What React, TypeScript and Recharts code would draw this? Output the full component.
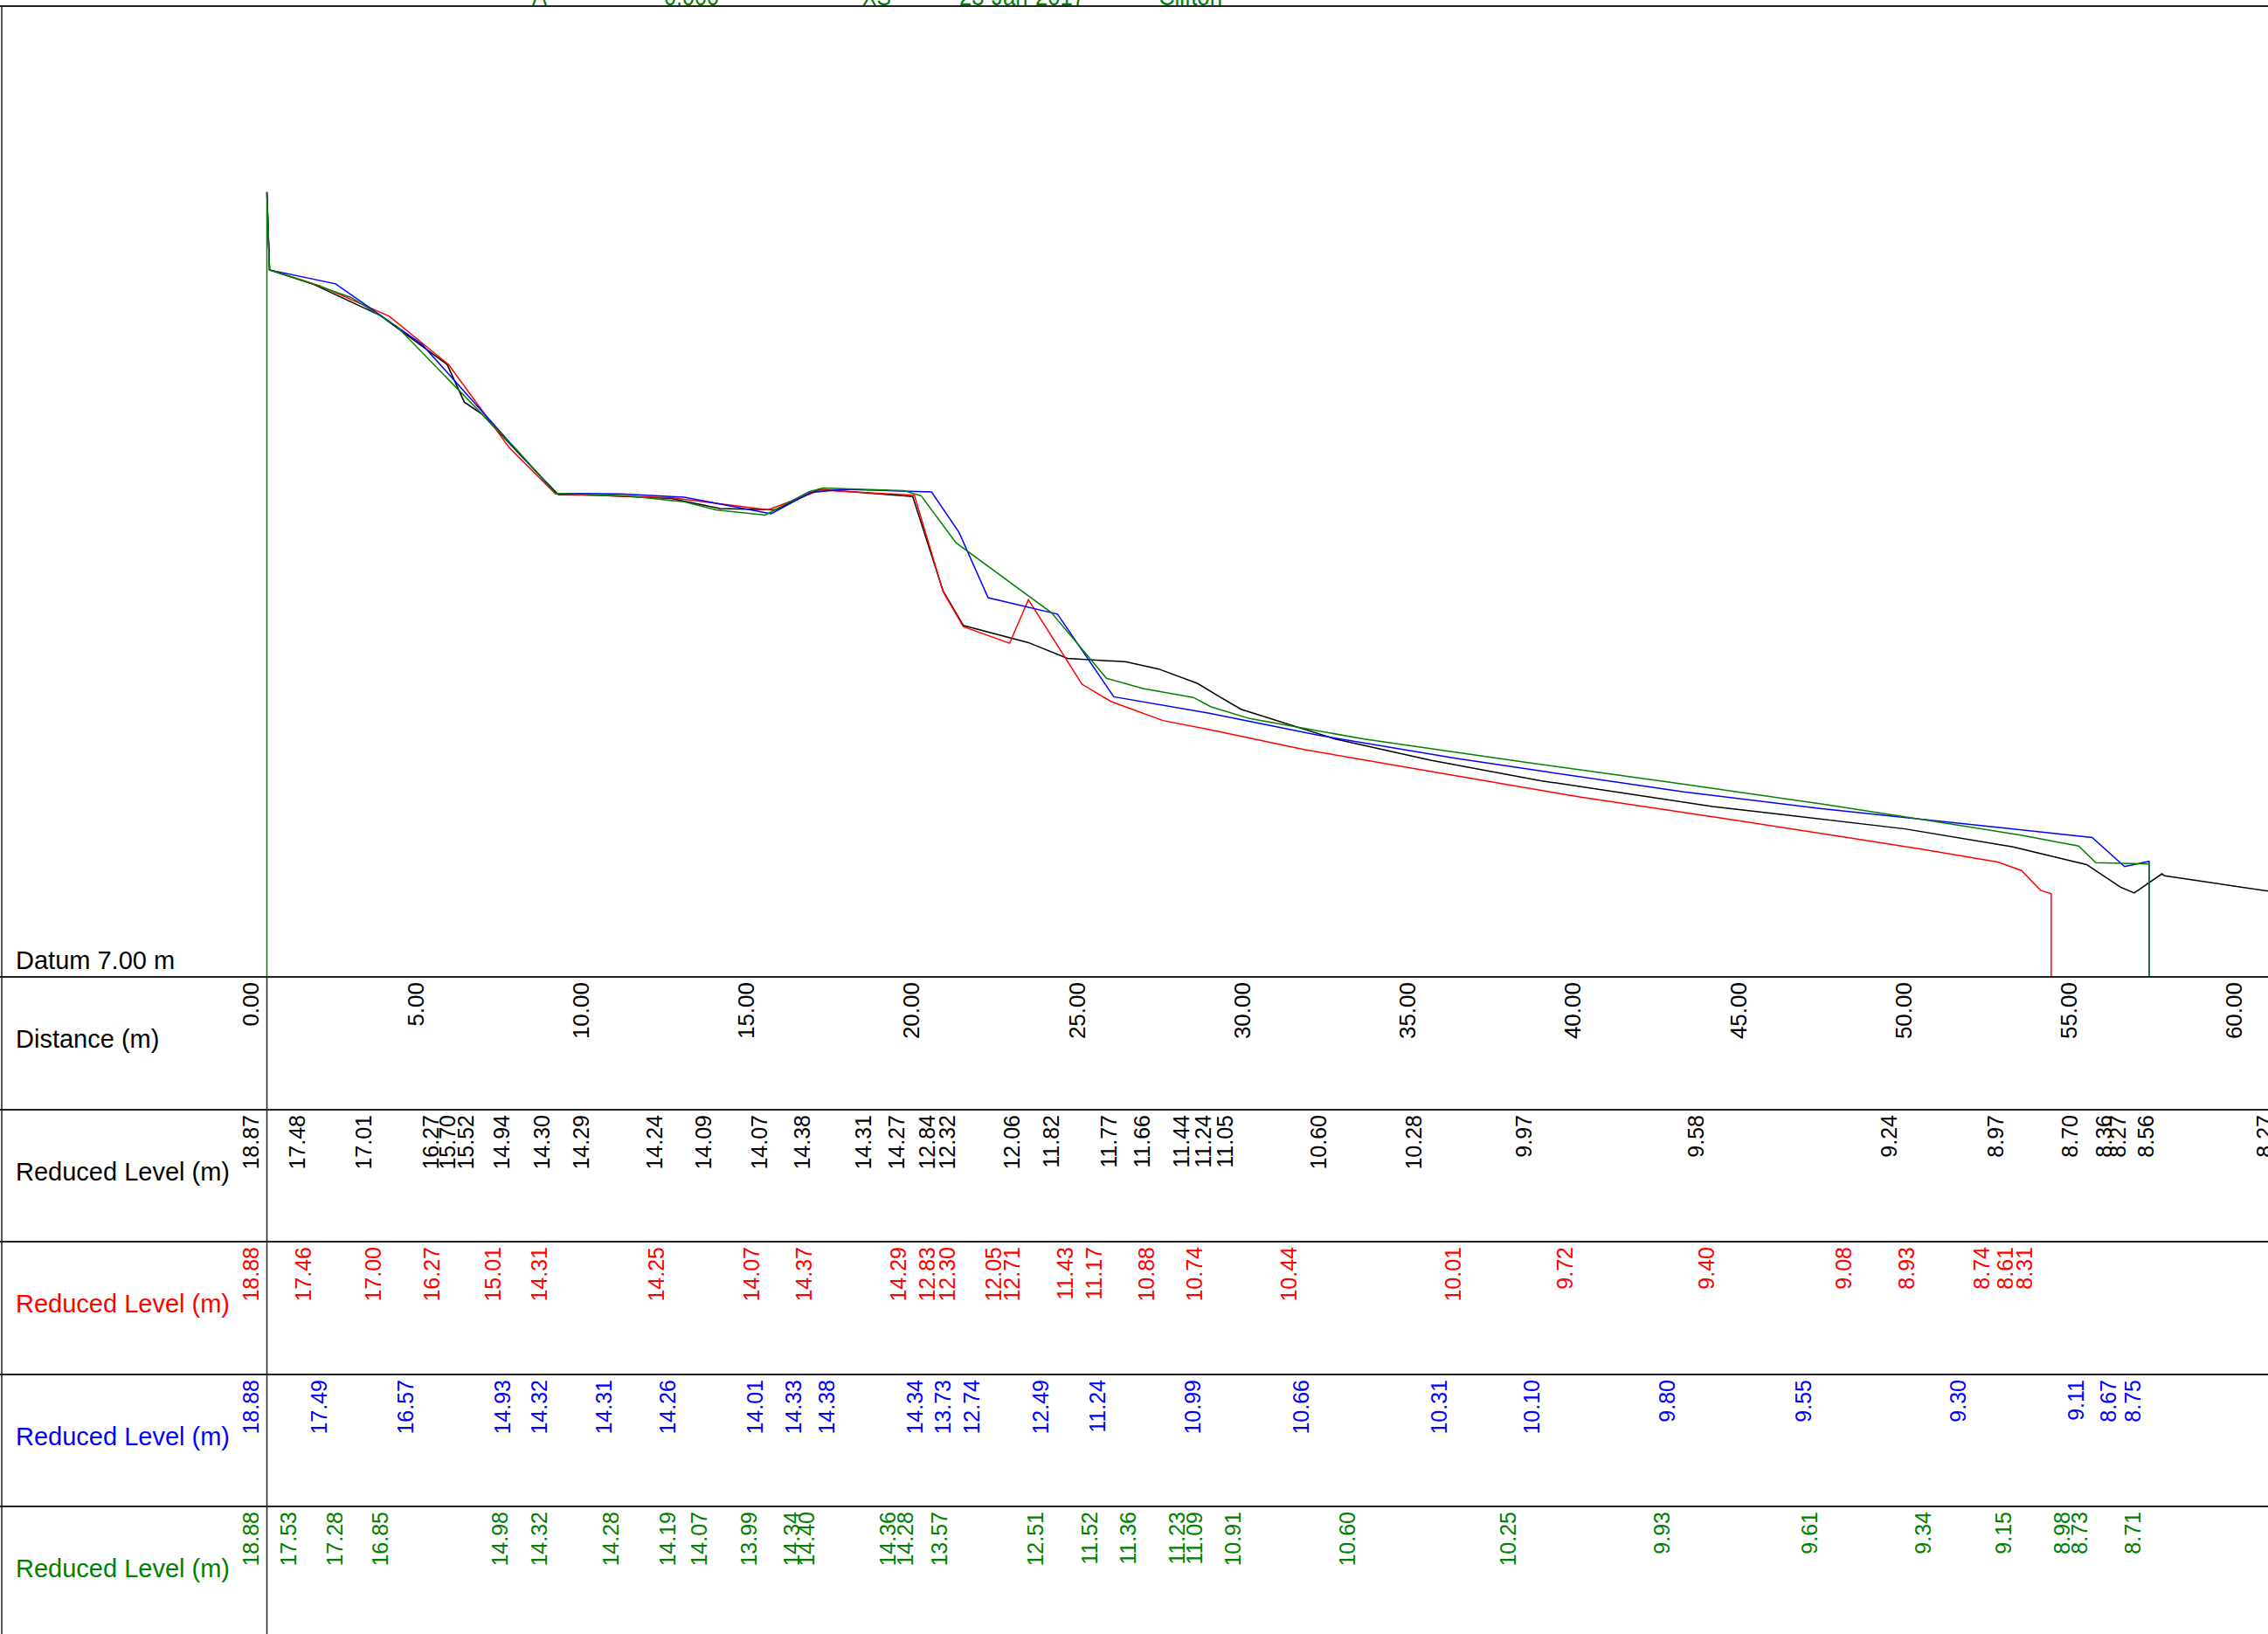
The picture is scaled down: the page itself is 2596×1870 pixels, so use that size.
import { LineChart, Line, XAxis, YAxis } from "recharts";

const blackDist = [0, 0.08, 1.42, 3.43, 5.45, 5.97, 6.5, 7.59, 8.81, 10.0, 12.23, 13.71, 15.38, 16.69, 18.53, 19.53, 20.45, 21.06, 23.03, 24.21, 25.96, 26.97, 28.15, 28.81, 29.46, 32.31, 35.19, 38.52, 43.72, 49.54, 52.78, 55.03, 56.05, 56.47, 57.31, 57.39, 60.9];
const blackLevel = [18.87, 17.7, 17.48, 17.01, 16.27, 15.7, 15.52, 14.94, 14.3, 14.29, 14.24, 14.09, 14.07, 14.38, 14.31, 14.27, 12.84, 12.32, 12.06, 11.82, 11.77, 11.66, 11.44, 11.24, 11.05, 10.6, 10.28, 9.97, 9.58, 9.24, 8.97, 8.7, 8.36, 8.27, 8.56, 8.53, 8.27];
const blackHidden = [1, 35];

const redDist = [0, 0.08, 1.6, 3.7, 5.49, 7.33, 8.73, 12.27, 15.16, 16.73, 19.58, 20.45, 21.06, 22.46, 23.03, 24.65, 25.52, 27.1, 28.54, 31.39, 36.37, 39.74, 44.03, 48.18, 50.07, 52.34, 53.06, 53.64, 53.96, 53.96];
const redLevel = [18.88, 17.7, 17.46, 17.0, 16.27, 15.01, 14.31, 14.25, 14.07, 14.37, 14.29, 12.83, 12.3, 12.05, 12.71, 11.43, 11.17, 10.88, 10.74, 10.44, 10.01, 9.72, 9.4, 9.08, 8.93, 8.74, 8.61, 8.31, 8.26, 7.0];
const redHidden = [1, 28, 29];

const blueDist = [0, 0.08, 2.08, 4.7, 7.63, 8.73, 10.7, 12.62, 15.25, 16.43, 17.43, 20.1, 20.93, 21.81, 23.91, 25.61, 28.5, 31.78, 35.94, 38.74, 42.85, 46.96, 51.64, 55.2, 56.18, 56.92, 56.92];
const blueLevel = [18.88, 17.7, 17.49, 16.57, 14.93, 14.32, 14.31, 14.26, 14.01, 14.33, 14.38, 14.34, 13.73, 12.74, 12.49, 11.24, 10.99, 10.66, 10.31, 10.1, 9.8, 9.55, 9.3, 9.11, 8.67, 8.75, 7.0];
const blueHidden = [1, 26];

const greenDist = [0, 0, 0.08, 1.16, 2.56, 3.92, 7.55, 8.73, 10.91, 12.62, 13.58, 15.07, 16.38, 16.82, 19.27, 19.79, 20.84, 23.73, 25.39, 26.53, 28.02, 28.54, 29.72, 33.18, 38.04, 42.67, 47.14, 50.59, 53.0, 54.79, 55.31, 56.92, 56.92];
const greenLevel = [7.0, 18.88, 17.7, 17.53, 17.28, 16.85, 14.98, 14.32, 14.28, 14.19, 14.07, 13.99, 14.34, 14.4, 14.36, 14.28, 13.57, 12.51, 11.52, 11.36, 11.23, 11.09, 10.91, 10.6, 10.25, 9.93, 9.61, 9.34, 9.15, 8.98, 8.73, 8.71, 7.0];
const greenHidden = [0, 2, 32];

const distTicks = [0, 5, 10, 15, 20, 25, 30, 35, 40, 45, 50, 55, 60];

const rowTitles = ["Distance (m)", "Reduced Level (m)", "Reduced Level (m)", "Reduced Level (m)", "Reduced Level (m)"];
const headerTexts = ["A", "0.000", "XS", "23-Jan-2017", "Clifton"];

const BLACK = "#000000";
const RED = "#ff0000";
const BLUE = "#0000ff";
const GREEN = "#008000";
const FONT = "'Liberation Sans', Arial, sans-serif";

const W = 2596;
const H = 1870;
const rowTops = [1118, 1270, 1421, 1573, 1724];

const toRows = (d: number[], v: number[]) => d.map((x, i) => ({ d: x, v: v[i] }));

const shownTicks = (d: number[], hidden: number[]) => d.filter((_, i) => !hidden.includes(i));

function rotated(x: number, y: number, text: string, color: string, size: number) {
  const bx = x - 10;
  const by = y + 6;
  return (
    <text
      x={bx}
      y={by}
      transform={`rotate(-90 ${bx} ${by})`}
      textAnchor="end"
      fontSize={size}
      fill={color}
      fontFamily={FONT}
    >
      {text}
    </text>
  );
}

function levelTick(dist: number[], level: number[], hidden: number[], color: string) {
  const labels = new Map<number, string>();
  dist.forEach((d, i) => {
    if (!hidden.includes(i)) labels.set(d, level[i].toFixed(2));
  });
  return (props: any) => {
    const { x, y, payload } = props;
    const t = labels.get(payload.value);
    if (t === undefined) return <g />;
    return rotated(x, y, t, color, 25);
  };
}

const distTick = (props: any) => rotated(props.x, props.y, Number(props.payload.value).toFixed(2), BLACK, 26);

const axisCommon = {
  dataKey: "d",
  type: "number" as const,
  domain: [0, 63],
  interval: 0 as const,
  axisLine: false,
  tickLine: false,
  tickSize: 0,
  tickMargin: 0,
};

export default function App() {
  const rowColors = [BLACK, BLACK, RED, BLUE, GREEN];
  const headerX = [609, 760, 987, 1098, 1326];
  const headerW = [17, 63, 33, 144, 73];

  return (
    <div style={{ position: "absolute", left: 0, top: 0, width: W, height: H, overflow: "hidden", background: "#fff", fontFamily: FONT }}>
      <LineChart
        width={2690}
        height={H}
        margin={{ top: 6.5, right: 0, bottom: 0, left: 305.5 }}
      >
        {/* bottom axes are stacked in id order, nearest the plot first */}
        <XAxis xAxisId="a-dist" {...axisCommon} height={152} ticks={distTicks} tick={distTick} />
        <XAxis xAxisId="b-black" {...axisCommon} height={151} ticks={shownTicks(blackDist, blackHidden)} tick={levelTick(blackDist, blackLevel, blackHidden, BLACK)} />
        <XAxis xAxisId="c-red" {...axisCommon} height={152} ticks={shownTicks(redDist, redHidden)} tick={levelTick(redDist, redLevel, redHidden, RED)} />
        <XAxis xAxisId="d-blue" {...axisCommon} height={151} ticks={shownTicks(blueDist, blueHidden)} tick={levelTick(blueDist, blueLevel, blueHidden, BLUE)} />
        <XAxis xAxisId="e-green" {...axisCommon} height={146} ticks={shownTicks(greenDist, greenHidden)} tick={levelTick(greenDist, greenLevel, greenHidden, GREEN)} />
        <YAxis type="number" domain={[7, 21.7]} hide />
        {/* invisible series so the distance axis has data of its own */}
        <Line xAxisId="a-dist" data={toRows(blackDist, blackLevel)} dataKey="v" stroke="none" dot={false} isAnimationActive={false} />
        <Line xAxisId="b-black" data={toRows(blackDist, blackLevel)} dataKey="v" stroke={BLACK} strokeWidth={1.5} dot={false} type="linear" isAnimationActive={false} />
        <Line xAxisId="c-red" data={toRows(redDist, redLevel)} dataKey="v" stroke={RED} strokeWidth={1.5} dot={false} type="linear" isAnimationActive={false} />
        <Line xAxisId="d-blue" data={toRows(blueDist, blueLevel)} dataKey="v" stroke={BLUE} strokeWidth={1.5} dot={false} type="linear" isAnimationActive={false} />
        <Line xAxisId="e-green" data={toRows(greenDist, greenLevel)} dataKey="v" stroke={GREEN} strokeWidth={1.5} dot={false} type="linear" isAnimationActive={false} />
      </LineChart>

      <svg width={W} height={H} style={{ position: "absolute", left: 0, top: 0, pointerEvents: "none" }}>
        <line x1={0} x2={W} y1={7} y2={7} stroke="#222" strokeWidth={2} />
        <line x1={2} x2={2} y1={7} y2={H} stroke="#222" strokeWidth={1.5} />
        {rowTops.map((y) => (
          <line key={y} x1={0} x2={W} y1={y} y2={y} stroke="#222" strokeWidth={2} />
        ))}
        <line x1={305.5} x2={305.5} y1={1118} y2={H} stroke="#222" strokeWidth={1.5} />
        {rowTitles.map((t, i) => (
          <text key={i} x={18} y={(i === 0 ? 1199 : rowTops[i] + 81)} fontSize={29} fill={rowColors[i]} fontFamily={FONT}>
            {t}
          </text>
        ))}
        <text x={18} y={1109} fontSize={29} fill={BLACK} fontFamily={FONT}>
          Datum 7.00 m
        </text>
        {headerTexts.map((t, i) => (
          <text key={t} x={headerX[i]} y={6} fontSize={30} fill={GREEN} fontFamily={FONT} textLength={headerW[i]} lengthAdjust="spacingAndGlyphs">
            {t}
          </text>
        ))}
      </svg>
    </div>
  );
}
